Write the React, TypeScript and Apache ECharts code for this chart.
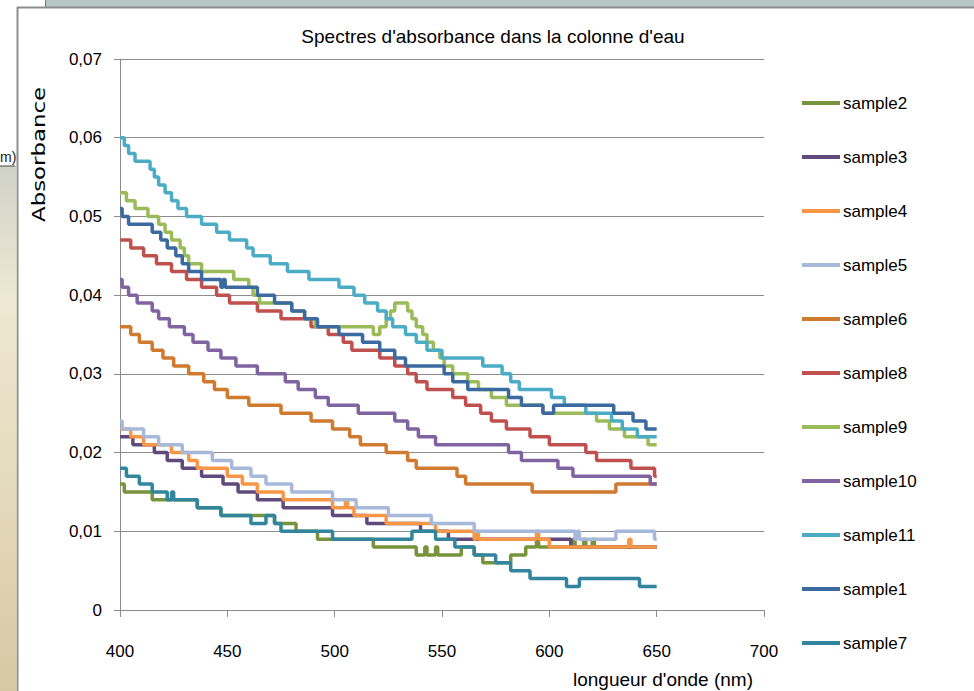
import React, { useEffect, useRef } from "react";
import * as echarts from "echarts";

// Breakpoints [wavelength nm, absorbance] : value holds until next breakpoint
const sample2: [number, number][] = [[400,0.016],[402,0.015],[415,0.014],[436,0.013],[447,0.012],[472,0.011],[482,0.010],[492,0.009],[518,0.008],[538,0.007],[542,0.008],[543,0.007],[547,0.008],[548,0.007],[559,0.008],[565,0.007],[569,0.006],[582,0.007],[589,0.008],[594,0.009],[595,0.008],[611,0.009],[612,0.008],[616,0.009],[617,0.008],[620,0.009],[621,0.008],[650,0.008]];
const sample3: [number, number][] = [[400,0.022],[406,0.021],[416,0.020],[422,0.019],[429,0.018],[438,0.017],[448,0.016],[455,0.015],[464,0.014],[476,0.013],[499,0.012],[515,0.011],[540,0.010],[553,0.009],[610,0.008],[650,0.008]];
const sample4: [number, number][] = [[400,0.023],[405,0.022],[411,0.021],[424,0.020],[432,0.019],[436,0.018],[450,0.017],[457,0.016],[464,0.015],[476,0.014],[499,0.013],[505,0.014],[506,0.013],[509,0.012],[524,0.011],[547,0.010],[565,0.009],[566,0.010],[567,0.009],[594,0.010],[595,0.009],[600,0.008],[637,0.009],[638,0.008],[650,0.008]];
const sample5: [number, number][] = [[400,0.024],[401,0.023],[411,0.022],[418,0.021],[429,0.020],[443,0.019],[452,0.018],[461,0.017],[468,0.016],[480,0.015],[499,0.014],[510,0.013],[525,0.012],[545,0.011],[565,0.010],[612,0.009],[613,0.010],[614,0.009],[631,0.010],[649,0.009],[650,0.009]];
const sample6: [number, number][] = [[400,0.036],[405,0.035],[409,0.034],[415,0.033],[420,0.032],[425,0.031],[432,0.030],[439,0.029],[444,0.028],[450,0.027],[460,0.026],[475,0.025],[489,0.024],[499,0.023],[507,0.022],[512,0.021],[524,0.020],[534,0.019],[538,0.018],[557,0.017],[561,0.016],[592,0.015],[631,0.016],[650,0.016]];
const sample8: [number, number][] = [[400,0.047],[405,0.046],[411,0.045],[417,0.044],[424,0.043],[431,0.042],[438,0.041],[445,0.040],[451,0.039],[464,0.038],[475,0.037],[489,0.036],[497,0.035],[504,0.034],[508,0.033],[521,0.032],[528,0.031],[534,0.030],[538,0.029],[543,0.028],[555,0.027],[561,0.026],[568,0.025],[573,0.024],[580,0.023],[591,0.022],[600,0.021],[617,0.020],[622,0.019],[638,0.018],[649,0.017],[650,0.017]];
const sample9: [number, number][] = [[400,0.053],[403,0.052],[407,0.051],[413,0.050],[418,0.049],[421,0.048],[424,0.047],[428,0.046],[430,0.045],[432,0.044],[438,0.043],[453,0.042],[460,0.041],[462,0.040],[465,0.039],[480,0.038],[486,0.037],[491,0.036],[518,0.035],[521,0.036],[524,0.037],[526,0.038],[528,0.039],[534,0.038],[536,0.037],[538,0.036],[541,0.035],[543,0.034],[546,0.033],[549,0.032],[551,0.031],[555,0.030],[562,0.029],[567,0.028],[573,0.027],[580,0.026],[597,0.025],[622,0.024],[628,0.023],[635,0.022],[646,0.021],[650,0.021]];
const sample10: [number, number][] = [[400,0.042],[401,0.041],[404,0.040],[408,0.039],[415,0.038],[418,0.037],[423,0.036],[430,0.035],[434,0.034],[441,0.033],[447,0.032],[454,0.031],[464,0.030],[477,0.029],[483,0.028],[491,0.027],[497,0.026],[511,0.025],[528,0.024],[534,0.023],[539,0.022],[547,0.021],[581,0.020],[587,0.019],[604,0.018],[611,0.017],[647,0.016],[650,0.016]];
const sample11: [number, number][] = [[400,0.060],[402,0.059],[404,0.058],[407,0.057],[414,0.056],[416,0.055],[418,0.054],[421,0.053],[424,0.052],[427,0.051],[431,0.050],[438,0.049],[445,0.048],[451,0.047],[459,0.046],[462,0.045],[470,0.044],[478,0.043],[488,0.042],[502,0.041],[509,0.040],[514,0.039],[520,0.038],[524,0.037],[527,0.036],[533,0.035],[538,0.034],[543,0.033],[550,0.032],[569,0.031],[578,0.030],[582,0.029],[586,0.028],[601,0.027],[607,0.026],[617,0.025],[629,0.024],[634,0.023],[641,0.022],[650,0.022]];
const sample1: [number, number][] = [[400,0.051],[401,0.050],[404,0.049],[415,0.048],[419,0.047],[422,0.046],[426,0.045],[429,0.044],[432,0.043],[438,0.042],[447,0.041],[448,0.042],[449,0.041],[464,0.040],[472,0.039],[480,0.038],[486,0.037],[492,0.036],[502,0.035],[513,0.034],[521,0.033],[528,0.032],[533,0.031],[551,0.030],[555,0.029],[562,0.028],[581,0.027],[587,0.026],[597,0.025],[602,0.026],[630,0.025],[639,0.024],[645,0.023],[650,0.023]];
const sample7: [number, number][] = [[400,0.018],[403,0.017],[409,0.016],[415,0.015],[422,0.014],[424,0.015],[425,0.014],[436,0.013],[447,0.012],[461,0.011],[468,0.012],[472,0.011],[475,0.010],[499,0.009],[536,0.010],[547,0.009],[556,0.008],[565,0.007],[575,0.006],[582,0.005],[591,0.004],[608,0.003],[614,0.004],[642,0.003],[650,0.003]];

const seriesNames = ["sample2","sample3","sample4","sample5","sample6","sample8","sample9","sample10","sample11","sample1","sample7"];
const seriesData = [sample2, sample3, sample4, sample5, sample6, sample8, sample9, sample10, sample11, sample1, sample7];
const seriesColors = ["#77933C","#604A7B","#F79646","#A7B9DA","#D07A30","#C0504D","#9BBB59","#8064A2","#4BACC6","#3B6AA0","#31859C"];

const xTicks = { min: 400, max: 700, step: 50 };
const yTicks = { min: 0, max: 0.07, step: 0.01 };

const TITLE = "Spectres d'absorbance dans la colonne d'eau";
const X_NAME = "longueur d'onde (nm)";
const Y_NAME = "Absorbance";
const SIDE_TEXT = "m)";

const SANS = '"Liberation Sans", Arial, sans-serif';
const GRID_COLOR = "#8C8C8C";

export default function App() {
  const ref = useRef<HTMLDivElement>(null);
  useEffect(() => {
    if (!ref.current) return;
    const chart = echarts.init(ref.current, undefined, { renderer: "svg" });
    const option: any = {
      animation: false,
      backgroundColor: "#ffffff",
      title: {
        text: TITLE,
        left: 493,
        top: 27,
        padding: 0,
        textAlign: "center",
        textStyle: { fontFamily: SANS, fontSize: 19, fontWeight: "normal", color: "#000" },
      },
      grid: { left: 120, top: 59, width: 644, height: 551, containLabel: false },
      xAxis: {
        type: "value",
        min: xTicks.min,
        max: xTicks.max,
        interval: xTicks.step,
        axisLine: { show: true, lineStyle: { color: GRID_COLOR, width: 1 } },
        axisTick: { show: true, length: 7, lineStyle: { color: GRID_COLOR } },
        splitLine: { show: false },
        axisLabel: { margin: 33, fontFamily: SANS, fontSize: 17, color: "#000" },
      },
      yAxis: {
        type: "value",
        min: yTicks.min,
        max: yTicks.max,
        interval: yTicks.step,
        axisLine: { show: true, lineStyle: { color: GRID_COLOR, width: 1 } },
        axisTick: { show: true, length: 6, lineStyle: { color: GRID_COLOR } },
        splitLine: { show: true, lineStyle: { color: GRID_COLOR, width: 1 } },
        axisLabel: {
          margin: 18,
          fontFamily: SANS,
          fontSize: 17,
          color: "#000",
          formatter: (v: number) => (v === 0 ? "0" : v.toFixed(2).replace(".", ",")),
        },
      },
      legend: {
        orient: "vertical",
        left: 802,
        top: 93,
        padding: 0,
        itemWidth: 38,
        itemHeight: 4,
        itemGap: 34,
        icon: "rect",
        data: seriesNames,
        textStyle: { fontFamily: SANS, fontSize: 17, color: "#000", lineHeight: 20, padding: [0, 0, 0, -2] },
      },
      series: seriesNames.map((name, i) => ({
        name,
        type: "line",
        step: "end",
        data: seriesData[i],
        showSymbol: false,
        symbol: "none",
        color: seriesColors[i],
        lineStyle: { width: 3.5, color: seriesColors[i] },
        emphasis: { disabled: true },
      })),
      graphic: [
        { type: "rect", shape: { x: 45, y: 0, width: 929, height: 7 }, style: { fill: "#B8C6C6" } },
        { type: "line", shape: { x1: 45.5, y1: 0, x2: 45.5, y2: 7 }, style: { stroke: "#6E7676", lineWidth: 1 } },
        { type: "line", shape: { x1: 17, y1: 7.5, x2: 974, y2: 7.5 }, style: { stroke: "#8E8E8E", lineWidth: 2 } },
        { type: "line", shape: { x1: 17.5, y1: 7, x2: 17.5, y2: 691 }, style: { stroke: "#8E8E8E", lineWidth: 2 } },
        {
          type: "rect",
          shape: { x: 0, y: 166, width: 16.5, height: 525 },
          style: {
            fill: new echarts.graphic.LinearGradient(0, 0, 0, 1, [
              { offset: 0, color: "#D0D2C8" },
              { offset: 0.25, color: "#EEE8D2" },
              { offset: 0.65, color: "#E3D8B9" },
              { offset: 1, color: "#D6C8A2" },
            ]),
          },
        },
        {
          type: "text",
          x: 0,
          y: 157,
          style: { text: SIDE_TEXT, font: `14px ${SANS}`, fill: "#222", textAlign: "left", textVerticalAlign: "middle" },
        },
        { type: "line", shape: { x1: 0, y1: 166, x2: 15, y2: 166 }, style: { stroke: "#444", lineWidth: 1 } },
        {
          type: "text",
          x: 39,
          y: 154.5,
          rotation: Math.PI / 2,
          scaleX: 1.27,
          style: { text: Y_NAME, font: '18px "DejaVu Sans", sans-serif', fill: "#000", textAlign: "center", textVerticalAlign: "middle" },
        },
        {
          type: "text",
          x: 663,
          y: 679,
          style: { text: X_NAME, font: `19px ${SANS}`, fill: "#000", textAlign: "center", textVerticalAlign: "middle" },
        },
      ],
    };
    chart.setOption(option);
    return () => chart.dispose();
  }, []);
  return (
    <div
      ref={ref}
      style={{ position: "fixed", left: 0, top: 0, width: "974px", height: "691px", background: "#fff" }}
    />
  );
}
